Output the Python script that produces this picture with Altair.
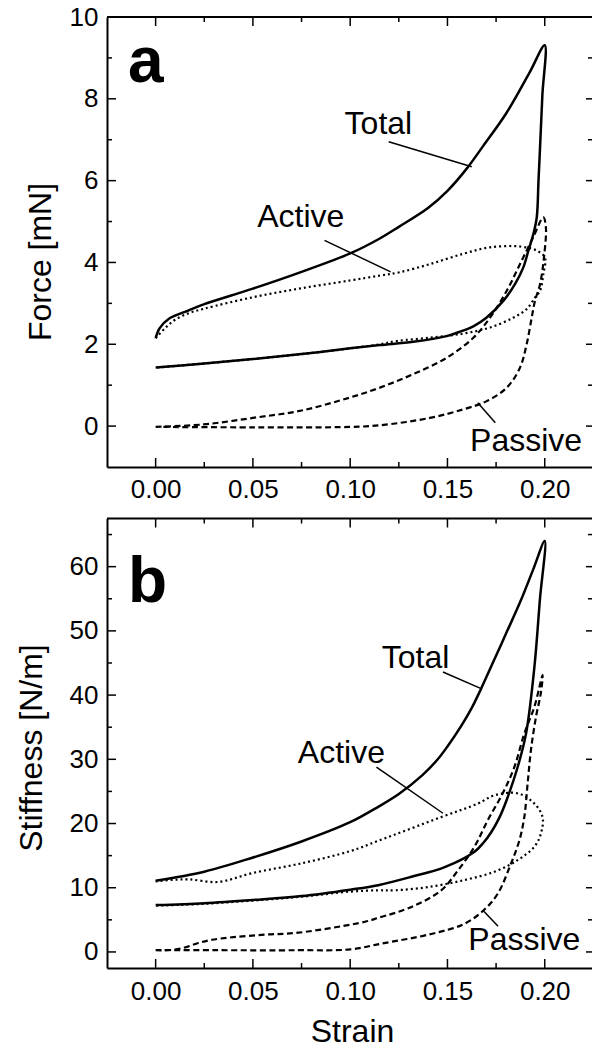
import altair as alt
import pandas as pd

# ---------------- data ----------------
# Panel a : Force [mN] vs strain (each loop listed in drawing order: loading, then unloading)
a_total_s = [0, 0.002, 0.007, 0.017, 0.025, 0.05, 0.075, 0.1, 0.115, 0.125, 0.14, 0.15, 0.16, 0.1684, 0.1804, 0.1924, 0.2,
             0.1988, 0.1976, 0.1968, 0.1959, 0.1942, 0.1916, 0.189, 0.1847, 0.1787, 0.170, 0.1633, 0.156, 0.1496,
             0.1324, 0.1153, 0.1, 0.075, 0.05, 0.025, 0]
a_total_f = [2.15, 2.39, 2.63, 2.83, 2.98, 3.36, 3.77, 4.22, 4.58, 4.87, 5.33, 5.75, 6.3, 6.85, 7.66, 8.66, 9.31,
             8.1, 6.82, 6.0, 5.1, 4.7, 4.29, 3.88, 3.47, 3.06, 2.65, 2.44, 2.3, 2.2,
             2.06, 1.98, 1.9, 1.76, 1.64, 1.53, 1.43]

a_active_s = [0, 0.005, 0.01, 0.017, 0.025, 0.05, 0.075, 0.1, 0.1153, 0.1254, 0.141, 0.158, 0.1719, 0.1873, 0.1959,
              0.2001, 0.1993, 0.1976, 0.195, 0.1907, 0.1838, 0.1719, 0.158, 0.141, 0.1239, 0.1153, 0.1, 0.075, 0.05,
              0.025, 0]
a_active_f = [2.15, 2.4, 2.6, 2.76, 2.87, 3.15, 3.37, 3.56, 3.68, 3.76, 3.96, 4.21, 4.37, 4.39, 4.29,
              4.12, 3.72, 3.31, 3.14, 2.86, 2.65, 2.41, 2.26, 2.16, 2.08, 2.0, 1.9, 1.76, 1.64,
              1.53, 1.43]

a_passive_s = [0, 0.0245, 0.05, 0.075, 0.1, 0.1153, 0.1324, 0.1496, 0.1633, 0.1719, 0.1805, 0.1873, 0.1941, 0.1993,
               0.2006, 0.1996, 0.1976, 0.195, 0.1933, 0.1907, 0.1873, 0.1805, 0.1702, 0.1582, 0.141, 0.1153, 0.1,
               0.05, 0]
a_passive_f = [-0.02, 0.04, 0.2, 0.38, 0.7, 0.94, 1.27, 1.67, 2.16, 2.65, 3.31, 3.96, 4.62, 5.1,
               4.86, 4.12, 3.47, 3.06, 2.65, 2.0, 1.43, 0.94, 0.61, 0.41, 0.2, 0.02, -0.02,
               -0.03, -0.02]

# Panel b : Stiffness [N/m] vs strain
b_total_s = [0, 0.025, 0.05, 0.075, 0.1, 0.1144, 0.125, 0.137, 0.145, 0.15, 0.1571, 0.1625, 0.1673, 0.1724, 0.18,
             0.1878, 0.194, 0.2,
             0.1975, 0.1947, 0.1904, 0.1861, 0.1801, 0.1765, 0.1724, 0.1685, 0.1639, 0.1486, 0.1315, 0.1144, 0.1,
             0.075, 0.05, 0.025, 0]
b_total_k = [11.1, 12.5, 14.7, 17.2, 20.2, 22.6, 24.6, 27.5, 30.0, 32.0, 35.2, 38.0, 41.0, 44.4, 49.5,
             54.8, 59.5, 64.0,
             54.8, 44.4, 34.0, 28.8, 23.4, 20.8, 18.6, 17.0, 15.6, 13.2, 11.7, 10.4, 9.7,
             8.7, 8.1, 7.6, 7.3]

b_active_s = [0, 0.008, 0.017, 0.032, 0.05, 0.075, 0.1, 0.1144, 0.1468, 0.1656, 0.1742, 0.1861, 0.1947, 0.1989,
              0.198, 0.1947, 0.1861, 0.1742, 0.1588, 0.14, 0.123, 0.1144, 0.1, 0.075, 0.05, 0.025, 0]
b_active_k = [11.0, 11.2, 11.3, 10.9, 12.3, 13.8, 15.7, 17.3, 21.0, 23.1, 24.4, 24.7, 23.1, 21.0,
              18.4, 16.4, 14.3, 12.5, 11.2, 10.1, 9.6, 9.6, 9.4, 8.6, 8.0, 7.5, 7.2]

b_passive_s = [0, 0.008, 0.015, 0.022, 0.029, 0.04, 0.0563, 0.0734, 0.1076, 0.1144, 0.1315, 0.1468, 0.1554, 0.1639,
               0.1707, 0.1784, 0.1844, 0.1895, 0.1947, 0.1989,
               0.198, 0.1955, 0.1929, 0.1912, 0.1895, 0.187, 0.1827, 0.1759, 0.169, 0.1588, 0.1417, 0.1161, 0.1,
               0.0734, 0.03, 0]
b_passive_k = [0.27, 0.3, 0.7, 1.4, 1.9, 2.3, 2.7, 3.0, 4.7, 5.3, 7.0, 9.6, 12.7, 16.4,
               20.5, 24.7, 28.8, 34.0, 38.2, 43.1,
               40.3, 36.6, 31.4, 26.2, 21.0, 17.4, 13.8, 9.1, 6.6, 4.4, 2.8, 1.3, 0.4,
               0.27, 0.27, 0.27]

# annotation labels (centre of text, in data units) and their leader lines
labels = ["Total", "Active", "Passive"]
a_label_s = [0.1145, 0.0746, 0.1904]
a_label_f = [7.39, 5.10, -0.37]
a_lead_s1 = [0.1198, 0.0868, 0.1656]
a_lead_f1 = [6.95, 4.54, 0.571]
a_lead_s2 = [0.1625, 0.1208, 0.1746]
a_lead_f2 = [6.34, 3.77, 0.081]

b_label_s = [0.1336, 0.0955, 0.1895]
b_label_k = [45.8, 31.0, 1.8]
b_lead_s1 = [0.1477, 0.1135, 0.1682]
b_lead_k1 = [43.6, 28.8, 6.5]
b_lead_s2 = [0.1673, 0.1477, 0.176]
b_lead_k2 = [41.0, 21.6, 4.0]

panel_letters = ["a", "b"]
letter_s = [-0.0142, -0.0142]
letter_v = [8.41, 54.5]

# axis ticks
x_major = [0, 0.05, 0.10, 0.15, 0.20]
x_minor = [0.025, 0.075, 0.125, 0.175]
ya_major = [0, 2, 4, 6, 8, 10]
ya_minor = [1, 3, 5, 7, 9]
yb_major = [0, 10, 20, 30, 40, 50, 60]
yb_minor = [5, 15, 25, 35, 45, 55, 65]

# ---------------- layout ----------------
W = 485          # plot group width
H = 951          # plot group height (both panels)
HA = 450         # bottom of panel a
BT = 501.5       # top of panel b
FONT = "Liberation Sans, Arial, Helvetica, sans-serif"
MAJ, MIN = 9, 5
RMAJ, RMIN = 6, 4


def xs():
    return alt.Scale(domain=[-0.025, 0.2243], range=[0, W], nice=False, zero=False)


def ya():
    return alt.Scale(domain=[-1, 10], range=[HA, 0], nice=False, zero=False)


def yb():
    return alt.Scale(domain=[-2.5, 67.5], range=[H, BT], nice=False, zero=False)


def line_layer(s, v, yscale, width, dash=None, xaxis=None, yaxis=None):
    df = pd.DataFrame({"s": s, "v": v, "i": list(range(len(s)))})
    kw = dict(color="black", strokeWidth=width, strokeJoin="round", interpolate="catmull-rom")
    if dash is not None:
        kw["strokeDash"] = dash
    return alt.Chart(df).mark_line(**kw).encode(
        x=alt.X("s:Q", scale=xs(), axis=xaxis),
        y=alt.Y("v:Q", scale=yscale, axis=yaxis),
        order=alt.Order("i:Q"),
    )


def ytick_layer(values, yscale, x0, x1):
    df = pd.DataFrame({"v": values})
    return alt.Chart(df).mark_rule(color="black", strokeWidth=1.5).encode(
        y=alt.Y("v:Q", scale=yscale, axis=None), x=alt.value(x0), x2=alt.value(x1))


def xtick_layer(values, y0, y1):
    df = pd.DataFrame({"v": values})
    return alt.Chart(df).mark_rule(color="black", strokeWidth=1.5).encode(
        x=alt.X("v:Q", scale=xs(), axis=None), y=alt.value(y0), y2=alt.value(y1))


def text_layer(s, v, txt, yscale, size, weight="normal", align="center", baseline="middle"):
    df = pd.DataFrame({"s": s, "v": v, "t": txt})
    return alt.Chart(df).mark_text(font=FONT, fontSize=size, fontWeight=weight, align=align,
                                   baseline=baseline, color="black").encode(
        x=alt.X("s:Q", scale=xs(), axis=None),
        y=alt.Y("v:Q", scale=yscale, axis=None),
        text="t:N")


def leader_layer(s1, v1, s2, v2, yscale):
    df = pd.DataFrame({"s": s1, "v": v1, "s2": s2, "v2": v2})
    return alt.Chart(df).mark_rule(color="black", strokeWidth=1.5).encode(
        x=alt.X("s:Q", scale=xs(), axis=None), x2="s2:Q",
        y=alt.Y("v:Q", scale=yscale, axis=None), y2="v2:Q")


def frame_top(ypx):
    return alt.Chart(pd.DataFrame({"k": [0]})).mark_rule(color="black", strokeWidth=2).encode(
        x=alt.value(0), x2=alt.value(W), y=alt.value(ypx))


axis_common = dict(ticks=False, tickSize=0, grid=False, domain=True, domainColor="black", domainWidth=2,
                   labelFont=FONT, labelFontSize=26, labelColor="black", labelFlush=False, labelOverlap=False,
                   titleFont=FONT, titleFontSize=32, titleFontWeight="normal", titleColor="black")

ya_axis = alt.Axis(orient="left", values=ya_major, labelPadding=9, title="Force [mN]",
                   titleX=-67, titleY=244.5, titleAngle=270, titleAlign="center", titleBaseline="middle",
                   **axis_common)
xa_axis = alt.Axis(orient="bottom", offset=-(H - HA), values=x_major, format=".2f", labelPadding=9,
                   title=None, **axis_common)
yb_axis = alt.Axis(orient="left", values=yb_major, labelPadding=9, title="Stiffness [N/m]",
                   titleX=-76, titleY=730.5, titleAngle=270, titleAlign="center", titleBaseline="middle",
                   **axis_common)
xb_axis = alt.Axis(orient="bottom", values=x_major, format=".2f", labelPadding=10, title="Strain",
                   titleX=245, titleY=63, titleAngle=0, titleAlign="center", titleBaseline="middle",
                   **axis_common)

DOT = [2, 3]
DASH = [6, 3.5]

layers = [
    # panel a curves
    line_layer(a_total_s, a_total_f, ya(), 2.5, xaxis=xa_axis, yaxis=ya_axis),
    line_layer(a_active_s, a_active_f, ya(), 2.2, dash=DOT),
    line_layer(a_passive_s, a_passive_f, ya(), 2.2, dash=DASH),
    # panel b curves
    line_layer(b_total_s, b_total_k, yb(), 2.5, xaxis=xb_axis, yaxis=yb_axis),
    line_layer(b_active_s, b_active_k, yb(), 2.2, dash=DOT),
    line_layer(b_passive_s, b_passive_k, yb(), 2.2, dash=DASH),
    # annotations
    text_layer(a_label_s, a_label_f, labels, ya(), 32),
    leader_layer(a_lead_s1, a_lead_f1, a_lead_s2, a_lead_f2, ya()),
    text_layer(b_label_s, b_label_k, labels, yb(), 32),
    leader_layer(b_lead_s1, b_lead_k1, b_lead_s2, b_lead_k2, yb()),
    text_layer(letter_s[:1], letter_v[:1], panel_letters[:1], ya(), 64, weight="bold", align="left",
               baseline="alphabetic"),
    text_layer(letter_s[1:], letter_v[1:], panel_letters[1:], yb(), 64, weight="bold", align="left",
               baseline="alphabetic"),
    # frames (top edges; left/bottom come from axis domains)
    frame_top(0),
    frame_top(BT),
    # inward ticks, panel a
    ytick_layer(ya_major, ya(), 0, MAJ), ytick_layer(ya_minor, ya(), 0, MIN),
    ytick_layer(ya_major, ya(), W - RMAJ, W), ytick_layer(ya_minor, ya(), W - RMIN, W),
    xtick_layer(x_major, HA, HA - MAJ), xtick_layer(x_minor, HA, HA - MIN),
    xtick_layer(x_major, 0, MAJ), xtick_layer(x_minor, 0, MIN),
    # inward ticks, panel b
    ytick_layer(yb_major, yb(), 0, MAJ), ytick_layer(yb_minor, yb(), 0, MIN),
    ytick_layer(yb_major, yb(), W - RMAJ, W), ytick_layer(yb_minor, yb(), W - RMIN, W),
    xtick_layer(x_major, H, H - MAJ), xtick_layer(x_minor, H, H - MIN),
    xtick_layer(x_major, BT, BT + MAJ), xtick_layer(x_minor, BT, BT + MIN),
]

chart = alt.layer(*layers).resolve_scale(x="independent", y="independent").properties(
    width=W, height=H,
    autosize=alt.AutoSizeParams(type="none"),
    padding={"left": 107, "top": 17, "right": 0, "bottom": 81},
    background="white",
).configure_view(stroke=None)

chart.save("out.html", embed_options={"renderer": "svg", "actions": False})
